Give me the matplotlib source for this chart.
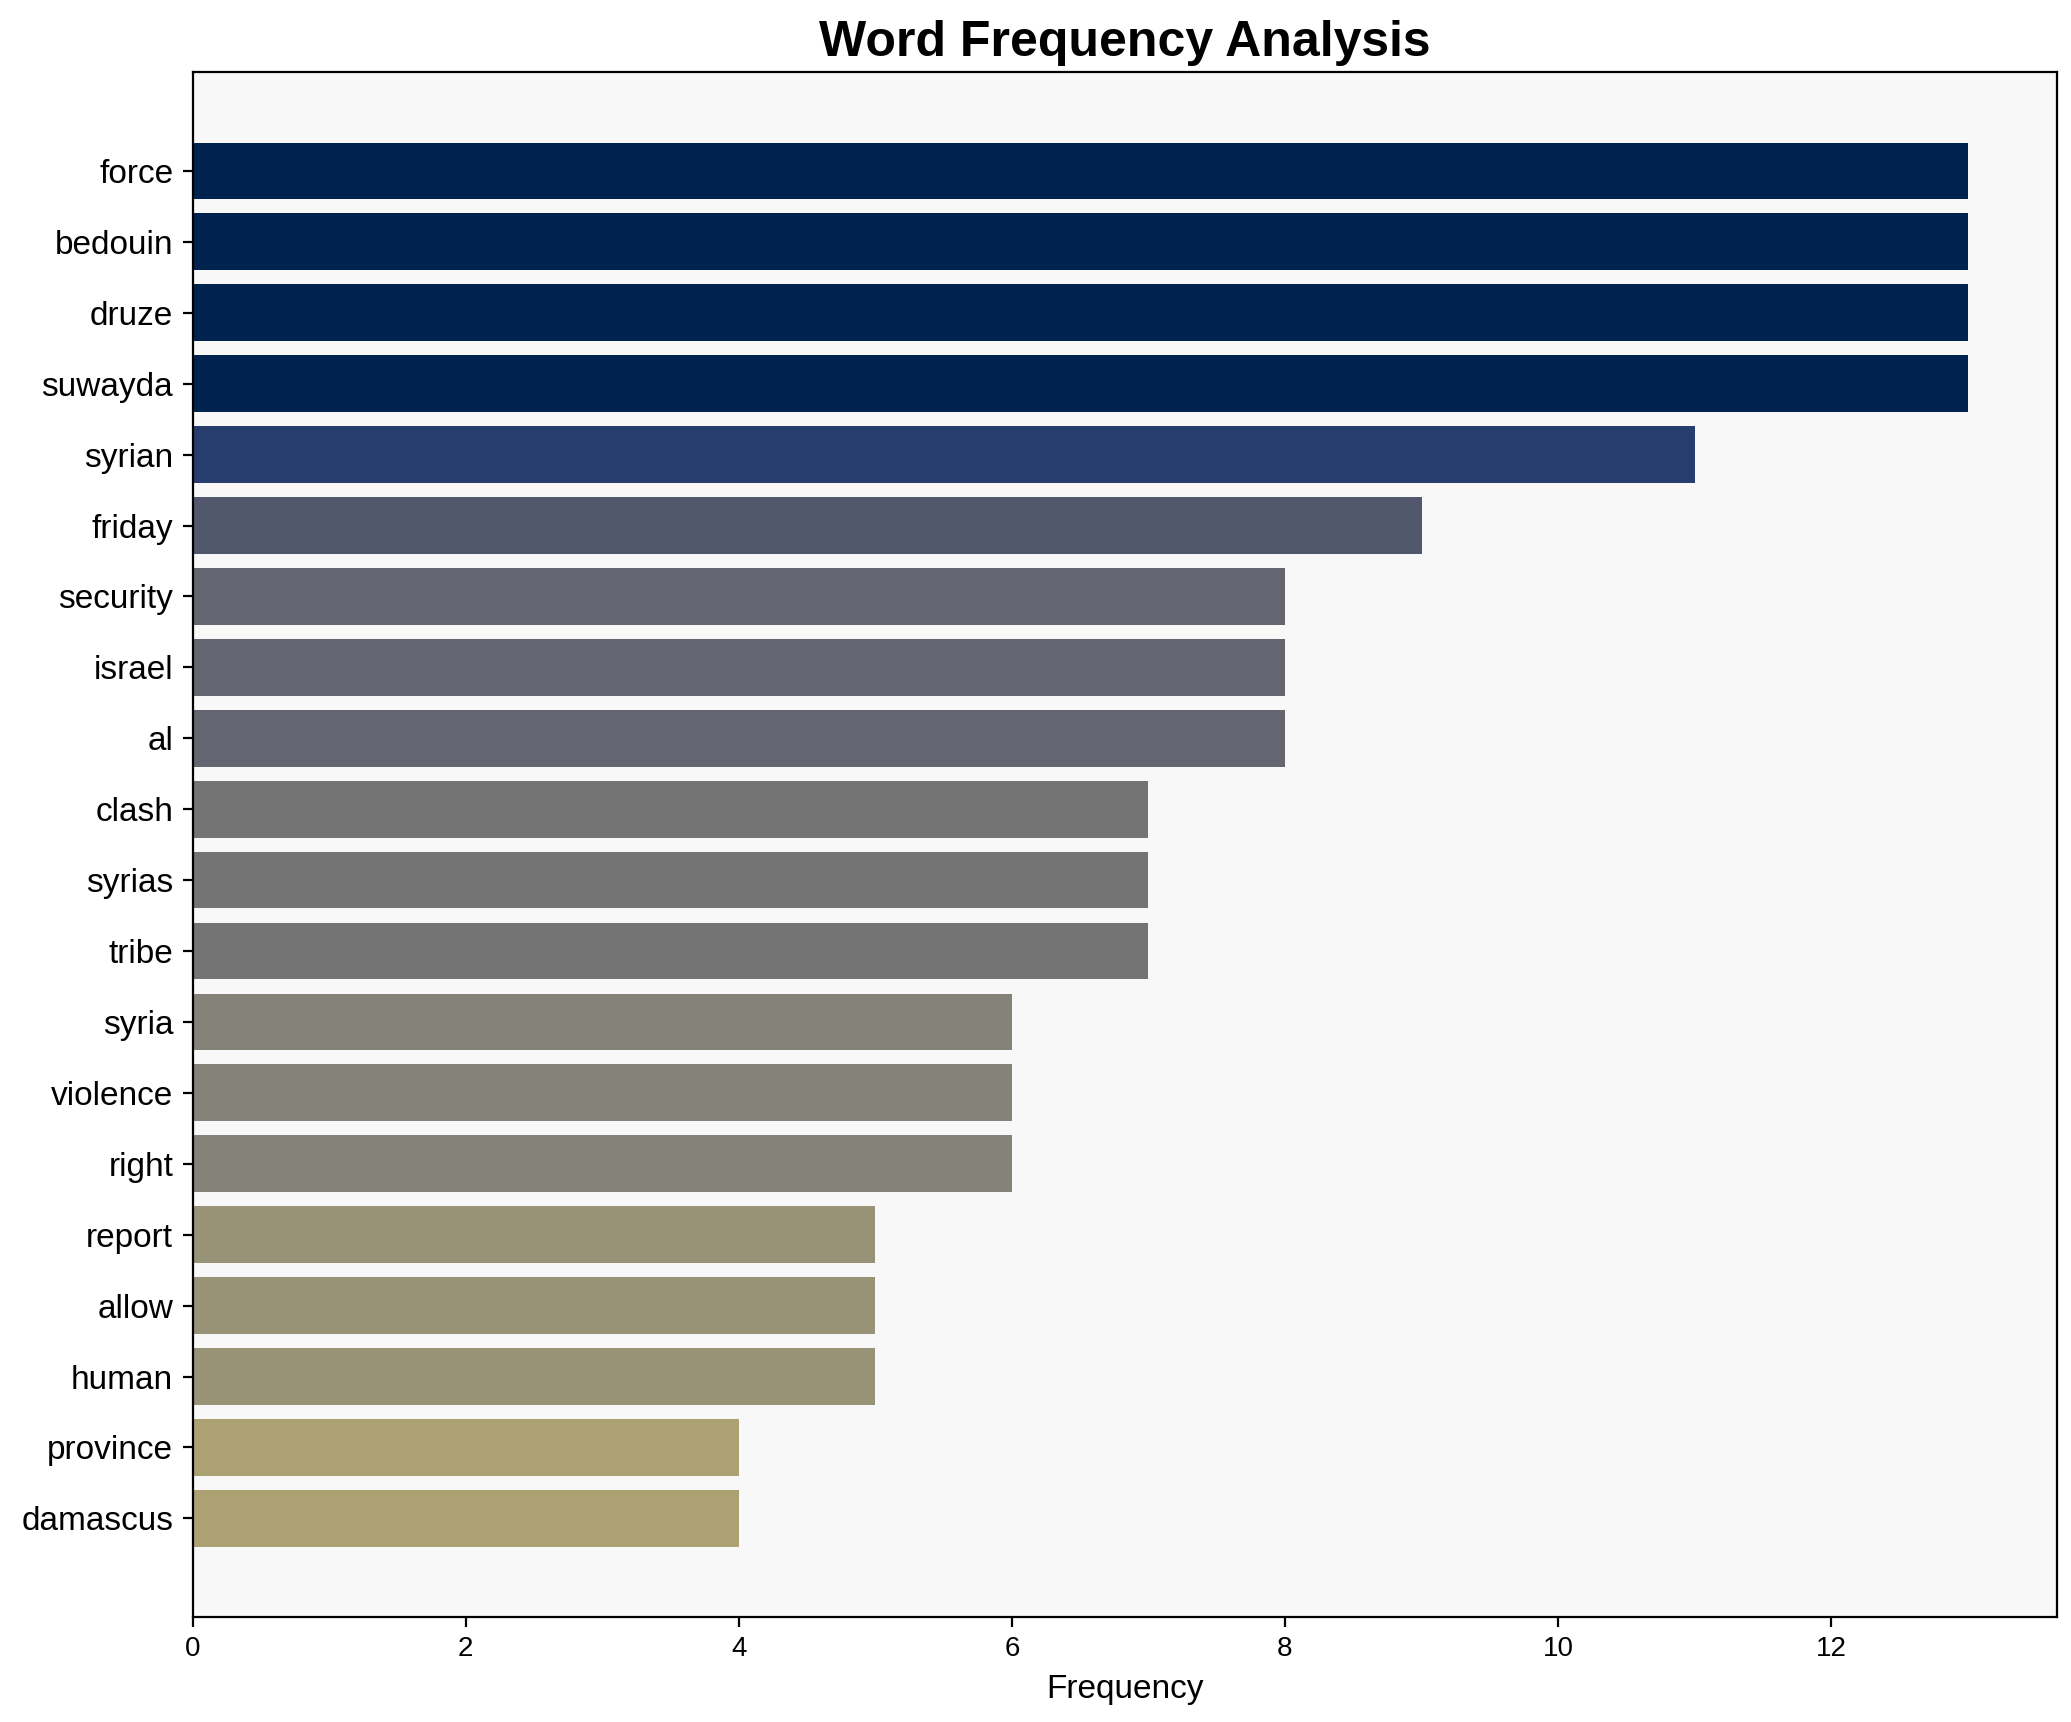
import numpy as np
import matplotlib.pyplot as plt

plt.rcParams['font.family'] = ['Liberation Sans', 'DejaVu Sans']

# word counts
words = ["force", "bedouin", "druze", "suwayda", "syrian", "friday", "security",
         "israel", "al", "clash", "syrias", "tribe", "syria", "violence", "right",
         "report", "allow", "human", "province", "damascus"]
counts = [13, 13, 13, 13, 11, 9, 8, 8, 8, 7, 7, 7, 6, 6, 6, 5, 5, 5, 4, 4]

counts_arr = np.array(counts, dtype=float)
colors = plt.cm.cividis(1 - counts_arr / counts_arr.max())

fig = plt.figure(figsize=(10.355, 8.61), dpi=200)
ax = fig.add_axes([0.093, 0.061, 0.9, 0.897])
ax.set_facecolor("#f8f8f8")

ax.barh(words, counts, color=colors, height=0.8)
ax.invert_yaxis()

ax.set_title("Word Frequency Analysis", fontsize=18, fontweight="bold")
ax.set_xlabel("Frequency", fontsize=12)
ax.tick_params(axis="y", labelsize=12)
ax.tick_params(axis="x", labelsize=10)

fig.savefig("out.png", dpi=200)
